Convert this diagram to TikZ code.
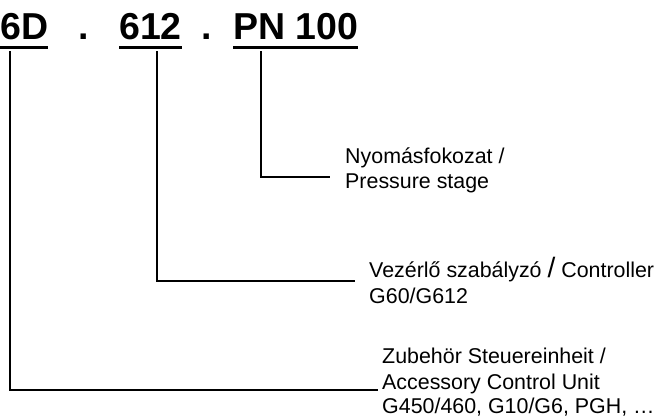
\documentclass[tikz,border=0pt]{standalone}
\usepackage{fontspec}
\setmainfont{Liberation Sans}
\begin{document}
\begin{tikzpicture}[x=1pt,y=-1pt,
  title/.style={anchor=base west,inner sep=0pt,font=\fontsize{37.5}{37.5}\selectfont\bfseries},
  lbl/.style={anchor=base west,inner sep=0pt,font=\fontsize{21.4}{25}\selectfont},
  uline/.style={line width=3pt},
  conn/.style={line width=1.3pt,line join=miter}]
\useasboundingbox (0,0) rectangle (663,418);
% title
\node[title] (six) at (0,39) {6D};
\node[title] (dot1) at (78,39) {.};
\node[title] (sixtwelve) at (119,39) {612};
\node[title] (dot2) at (201,39) {.};
\node[title] (pn) at (233,39) {PN 100};
\draw[uline] ([yshift=-8.5pt]six.base west) -- ([yshift=-8.5pt]six.base east);
\draw[uline] ([yshift=-8.5pt]sixtwelve.base west) -- ([yshift=-8.5pt]sixtwelve.base east);
\draw[uline] ([yshift=-8.5pt]pn.base west) -- ([yshift=-8.5pt]pn.base east);
% labels
\node[lbl] (ny1) at (345,163) {Nyomásfokozat /};
\node[lbl] (ny2) at (345,188) {Pressure stage};
\node[lbl] (ve1) at (369,277) {Vezérlő szabályzó {\fontsize{28}{28}\selectfont /} Controller};
\node[lbl] (ve2) at (369,303) {G60/G612};
\node[lbl] (zu1) at (382,363) {Zubehör Steuereinheit /};
\node[lbl] (zu2) at (382,389) {Accessory Control Unit};
\node[lbl] (zu3) at (382,413) {G450/460, G10/G6, PGH, …};
% connector points
\coordinate (a0) at (10,51);
\coordinate (a1) at (10,390);
\coordinate (a2) at (378,390);
\coordinate (b0) at (157,51);
\coordinate (b1) at (157,281);
\coordinate (b2) at (355,281);
\coordinate (c0) at (261,51);
\coordinate (c1) at (261,177);
\coordinate (c2) at (330,177);
\draw[conn] (a0) -- (a1) -- (a2);
\draw[conn] (b0) -- (b1) -- (b2);
\draw[conn] (c0) -- (c1) -- (c2);
\end{tikzpicture}
\end{document}
